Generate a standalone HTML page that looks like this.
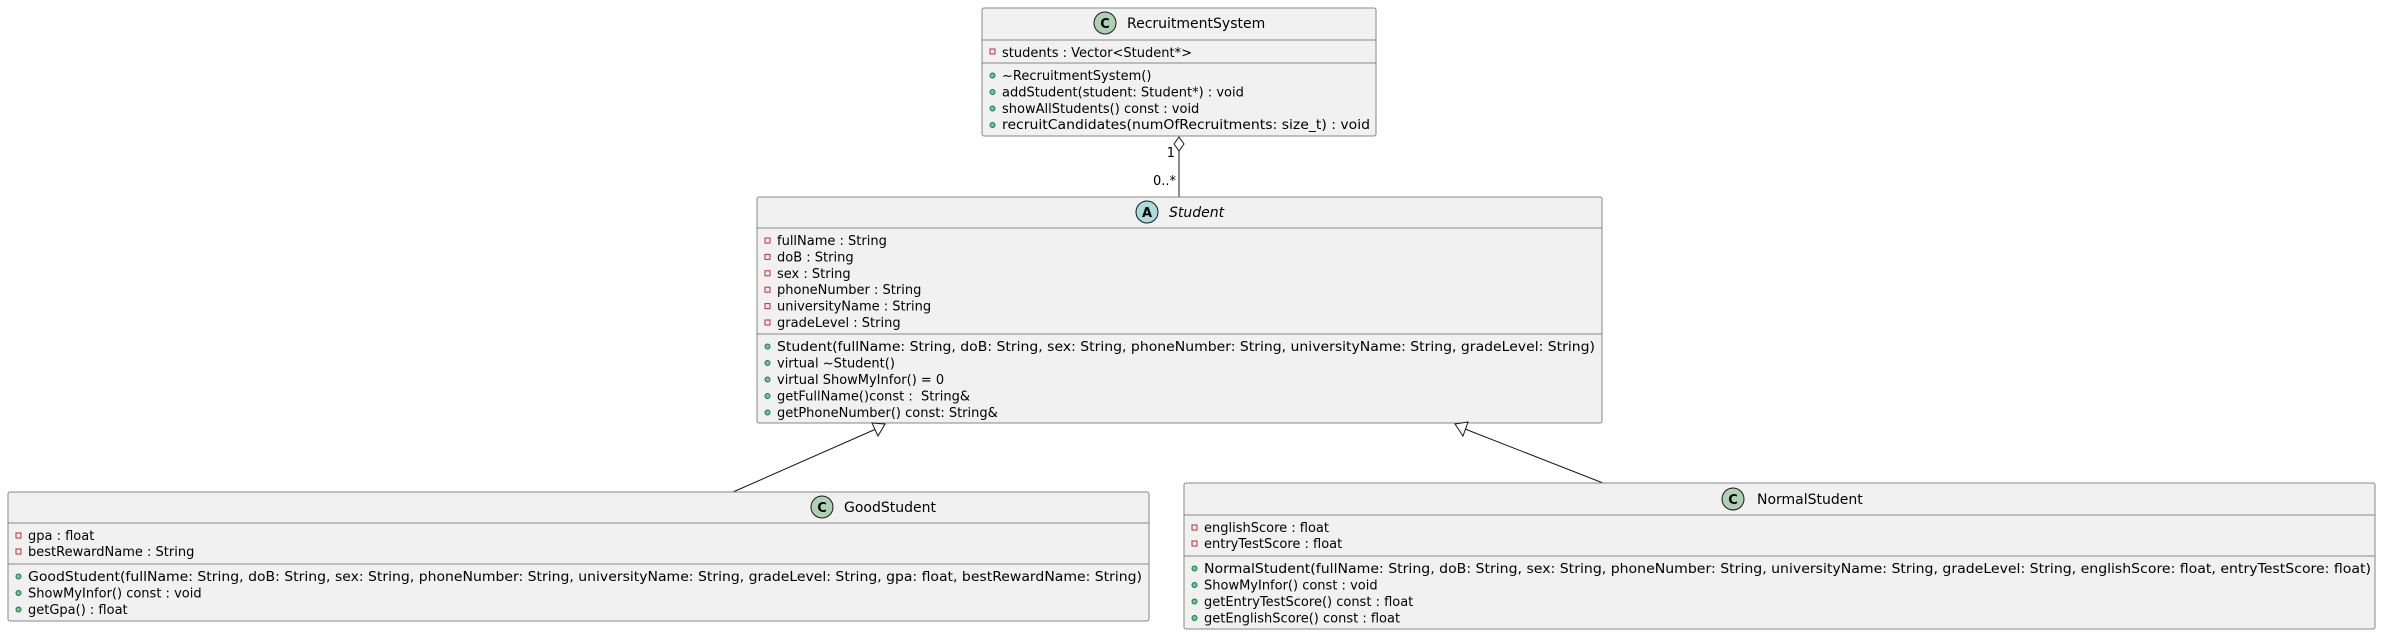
<!DOCTYPE html>
<html><head><meta charset="utf-8"><style>
html,body{margin:0;padding:0;background:#fff;}
svg{display:block;}
text{font-family:"DejaVu Sans","Liberation Sans",sans-serif;font-size:13px;fill:#000;}
.box{fill:#F1F1F1;stroke:#888;stroke-width:1;}
.div{stroke:#888;stroke-width:1;}
.priv{fill:none;stroke:#C82930;stroke-width:1;}
.pub{fill:#84BE84;stroke:#038048;stroke-width:1;}
.ln{stroke:#181818;stroke-width:1;fill:none;}
.hd{font-size:14px;}
</style></head><body>
<svg width="2381" height="635" viewBox="0 0 2381 635" xmlns="http://www.w3.org/2000/svg">

<!-- RecruitmentSystem -->
<rect class="box" x="982" y="8" width="394" height="128" rx="2"/>
<line class="div" x1="982" y1="40" x2="1376" y2="40"/>
<line class="div" x1="982" y1="63" x2="1376" y2="63"/>
<circle cx="1105" cy="23" r="11" fill="#ADD1B2" stroke="#181818"/>
<text x="1105" y="28" text-anchor="middle" style="font-weight:bold;font-size:13px">C</text>
<text class="hd" x="1127" y="28">RecruitmentSystem</text>
<rect class="priv" x="990" y="49" width="5" height="5"/>
<text x="1002" y="57">students : Vector&lt;Student*&gt;</text>
<circle class="pub" cx="992.5" cy="75.5" r="2.5"/><text x="1002" y="80">~RecruitmentSystem()</text>
<circle class="pub" cx="992.5" cy="92" r="2.5"/><text x="1002" y="96.5">addStudent(student: Student*) : void</text>
<circle class="pub" cx="992.5" cy="108.5" r="2.5"/><text x="1002" y="113">showAllStudents() const : void</text>
<circle class="pub" cx="992.5" cy="125" r="2.5"/><text x="1002" y="129" textLength="368" lengthAdjust="spacingAndGlyphs">recruitCandidates(numOfRecruitments: size_t) : void</text>

<!-- aggregation -->
<polygon points="1179,137 1184,144 1179,151 1174,144" fill="#fff" stroke="#181818"/>
<line class="ln" x1="1179" y1="151" x2="1179" y2="197"/>
<text x="1175" y="157" text-anchor="end">1</text>
<text x="1176" y="185" text-anchor="end">0..*</text>

<!-- Student -->
<rect class="box" x="757" y="197" width="845" height="226" rx="2"/>
<line class="div" x1="757" y1="228" x2="1602" y2="228"/>
<line class="div" x1="757" y1="334" x2="1602" y2="334"/>
<circle cx="1147" cy="212" r="11" fill="#A9DCDF" stroke="#181818"/>
<text x="1147" y="217" text-anchor="middle" style="font-weight:bold;font-size:13px">A</text>
<text class="hd" x="1169" y="217" style="font-style:italic">Student</text>
<rect class="priv" x="765" y="238" width="5" height="5"/><text x="777" y="245">fullName : String</text>
<rect class="priv" x="765" y="254.4" width="5" height="5"/><text x="777" y="261.4">doB : String</text>
<rect class="priv" x="765" y="270.8" width="5" height="5"/><text x="777" y="277.8">sex : String</text>
<rect class="priv" x="765" y="287.2" width="5" height="5"/><text x="777" y="294.2">phoneNumber : String</text>
<rect class="priv" x="765" y="303.6" width="5" height="5"/><text x="777" y="310.6">universityName : String</text>
<rect class="priv" x="765" y="320" width="5" height="5"/><text x="777" y="327">gradeLevel : String</text>
<circle class="pub" cx="767.5" cy="346.5" r="2.5"/><text x="777" y="351" textLength="818" lengthAdjust="spacingAndGlyphs">Student(fullName: String, doB: String, sex: String, phoneNumber: String, universityName: String, gradeLevel: String)</text>
<circle class="pub" cx="767.5" cy="363" r="2.5"/><text x="777" y="367.5">virtual ~Student()</text>
<circle class="pub" cx="767.5" cy="379.5" r="2.5"/><text x="777" y="384">virtual ShowMyInfor() = 0</text>
<circle class="pub" cx="767.5" cy="396" r="2.5"/><text x="777" y="400.5" xml:space="preserve">getFullName()const :  String&amp;</text>
<circle class="pub" cx="767.5" cy="412.5" r="2.5"/><text x="777" y="417">getPhoneNumber() const: String&amp;</text>

<!-- inheritance lines -->
<line class="ln" x1="733" y1="492" x2="876" y2="429"/>
<polygon points="885,424 872,423 878,436" fill="#fff" stroke="#181818"/>
<line class="ln" x1="1603" y1="483" x2="1465" y2="429"/>
<polygon points="1455,424 1468,422 1463,436" fill="#fff" stroke="#181818"/>

<!-- GoodStudent -->
<rect class="box" x="8" y="492" width="1141" height="129" rx="2"/>
<line class="div" x1="8" y1="523" x2="1149" y2="523"/>
<line class="div" x1="8" y1="564" x2="1149" y2="564"/>
<circle cx="822" cy="507" r="11" fill="#ADD1B2" stroke="#181818"/>
<text x="822" y="512" text-anchor="middle" style="font-weight:bold;font-size:13px">C</text>
<text class="hd" x="844" y="512">GoodStudent</text>
<rect class="priv" x="16" y="533" width="5" height="5"/><text x="28" y="540">gpa : float</text>
<rect class="priv" x="16" y="549" width="5" height="5"/><text x="28" y="556">bestRewardName : String</text>
<circle class="pub" cx="18.5" cy="576.5" r="2.5"/><text x="28" y="581" textLength="1114" lengthAdjust="spacingAndGlyphs">GoodStudent(fullName: String, doB: String, sex: String, phoneNumber: String, universityName: String, gradeLevel: String, gpa: float, bestRewardName: String)</text>
<circle class="pub" cx="18.5" cy="593" r="2.5"/><text x="28" y="597.5">ShowMyInfor() const : void</text>
<circle class="pub" cx="18.5" cy="609.5" r="2.5"/><text x="28" y="614">getGpa() : float</text>

<!-- NormalStudent -->
<rect class="box" x="1184" y="483" width="1191" height="146" rx="2"/>
<line class="div" x1="1184" y1="515" x2="2375" y2="515"/>
<line class="div" x1="1184" y1="556" x2="2375" y2="556"/>
<circle cx="1733" cy="499" r="11" fill="#ADD1B2" stroke="#181818"/>
<text x="1733" y="504" text-anchor="middle" style="font-weight:bold;font-size:13px">C</text>
<text class="hd" x="1757" y="504">NormalStudent</text>
<rect class="priv" x="1192" y="525" width="5" height="5"/><text x="1204" y="532">englishScore : float</text>
<rect class="priv" x="1192" y="541" width="5" height="5"/><text x="1204" y="548">entryTestScore : float</text>
<circle class="pub" cx="1194.5" cy="568.5" r="2.5"/><text x="1204" y="573" textLength="1167" lengthAdjust="spacingAndGlyphs">NormalStudent(fullName: String, doB: String, sex: String, phoneNumber: String, universityName: String, gradeLevel: String, englishScore: float, entryTestScore: float)</text>
<circle class="pub" cx="1194.5" cy="585" r="2.5"/><text x="1204" y="589.5">ShowMyInfor() const : void</text>
<circle class="pub" cx="1194.5" cy="601.5" r="2.5"/><text x="1204" y="606">getEntryTestScore() const : float</text>
<circle class="pub" cx="1194.5" cy="618" r="2.5"/><text x="1204" y="622.5">getEnglishScore() const : float</text>
</svg>
</body></html>
